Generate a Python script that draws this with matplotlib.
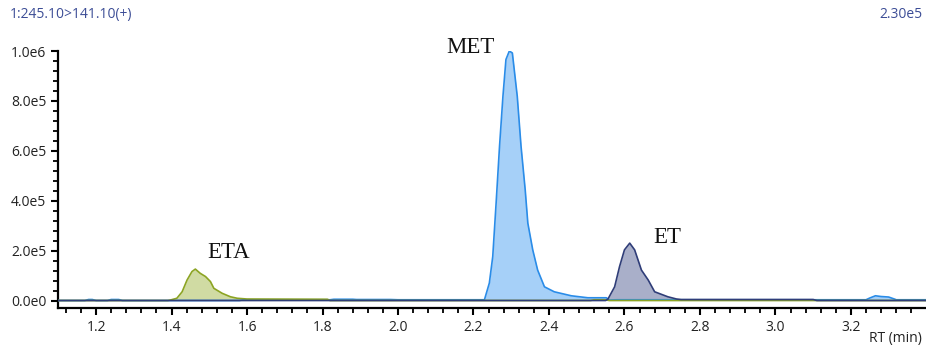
import matplotlib
matplotlib.use("Agg")
import matplotlib.pyplot as plt
from matplotlib.ticker import MultipleLocator, FuncFormatter

# retention time (min) / intensity
met_rt = [1.10, 1.17, 1.18, 1.19, 1.20, 1.23, 1.24, 1.26, 1.27, 1.58, 1.59, 1.82, 1.83, 1.88,
          1.89, 1.98, 2.00, 2.22, 2.229, 2.242, 2.251, 2.260, 2.269, 2.278, 2.286, 2.295,
          2.303, 2.316, 2.326, 2.337, 2.344, 2.357, 2.370, 2.388, 2.414, 2.459, 2.503,
          2.552, 2.560, 2.58, 3.24, 3.25, 3.265, 3.28, 3.30, 3.317, 3.32, 3.40]
met_int = [0, 0, 4e3, 4e3, 0, 0, 4e3, 4e3, 0, 0, 3e3, 3e3, 5e3, 5e3,
           4e3, 4e3, 3e3, 3e3, 3e3, 70e3, 176e3, 392e3, 618e3, 818e3, 966e3, 1.0e6,
           992e3, 818e3, 618e3, 444e3, 310e3, 203e3, 122e3, 55e3, 35e3, 19e3, 11e3,
           11e3, 2e3, 3e3, 3e3, 10e3, 19e3, 16e3, 14e3, 5e3, 3e3, 3e3]

et_rt = [1.10, 2.55, 2.556, 2.574, 2.587, 2.600, 2.614, 2.627, 2.645, 2.663, 2.680,
         2.715, 2.738, 2.75, 3.10, 3.11, 3.40]
et_int = [0, 0, 5e3, 55e3, 136e3, 203e3, 230e3, 203e3, 122e3, 82e3, 35e3,
          15e3, 6e3, 4e3, 4e3, 0, 0]

eta_rt = [1.10, 1.39, 1.397, 1.414, 1.428, 1.441, 1.454, 1.463, 1.476, 1.490, 1.503,
          1.512, 1.534, 1.556, 1.574, 1.60, 1.813, 1.82, 2.51, 2.52, 2.55, 2.56, 3.40]
eta_int = [0, 0, 2e3, 9e3, 35e3, 82e3, 116e3, 126e3, 109e3, 96e3, 76e3,
           49e3, 29e3, 15e3, 9e3, 6e3, 5e3, 0, 0, 3e3, 3e3, 0, 0]

peak_names = ["ETA", "MET", "ET"]
peak_pos = [(1.551, 1.91e5), (2.193, 1.014e6), (2.714, 2.51e5)]

fig = plt.figure(figsize=(9.26, 3.51), dpi=100)
ax = fig.add_axes([0.0626, 0.1225, 0.9374, 0.7322])

ax.fill_between(met_rt, met_int, color="#a6d0f8", lw=0, zorder=2)
ax.fill_between(eta_rt, eta_int, color="#d0dba3", lw=0, zorder=2)
ax.fill_between(et_rt, et_int, color="#a9afc9", lw=0, zorder=2)
ax.plot(met_rt, met_int, color="#2a8ce8", lw=1.2, zorder=3)
ax.plot(eta_rt, eta_int, color="#8ca423", lw=1.2, zorder=3)
ax.plot(et_rt, et_int, color="#2f3d78", lw=1.2, zorder=4)

for name, (x, y) in zip(peak_names, peak_pos):
    ax.text(x, y, name, ha="center", va="center", fontsize=16.5,
            family="Liberation Serif", color="#111111")

ax.set_xlim(1.099, 3.399)
ax.set_ylim(-3e4, 1.0e6)
ax.xaxis.set_major_locator(MultipleLocator(0.2))
ax.xaxis.set_minor_locator(MultipleLocator(0.04))
ax.yaxis.set_major_locator(MultipleLocator(2e5))
ax.yaxis.set_minor_locator(MultipleLocator(4e4))
ax.xaxis.set_major_formatter(FuncFormatter(lambda v, p: f"{v:.1f}"))

def sci(v, p):
    if v == 0:
        return "0.0e0"
    m, e = f"{v:.1e}".split("e")
    return f"{m}e{int(e)}"

ax.yaxis.set_major_formatter(FuncFormatter(sci))

for s in ["top", "right"]:
    ax.spines[s].set_visible(False)
for s in ["left", "bottom"]:
    ax.spines[s].set_linewidth(1.6)
    ax.spines[s].set_color("black")
ax.tick_params(which="major", length=5, width=1.5, direction="out", labelsize=10,
               labelcolor="#222222")
ax.tick_params(which="minor", length=3.5, width=1.3, direction="out")
for lbl in ax.get_xticklabels() + ax.get_yticklabels():
    lbl.set_family("Open Sans")

fig.text(0.011, 0.96, "1:245.10>141.10(+)", color="#3c4d96", fontsize=10,
         family="Open Sans", ha="left", va="center")
fig.text(0.996, 0.96, "2.30e5", color="#3c4d96", fontsize=10,
         family="Open Sans", ha="right", va="center")
fig.text(0.996, 0.037, "RT (min)", color="#222222", fontsize=10,
         family="Open Sans", ha="right", va="center")

plt.savefig("out.png", dpi=100)
plt.close(fig)
